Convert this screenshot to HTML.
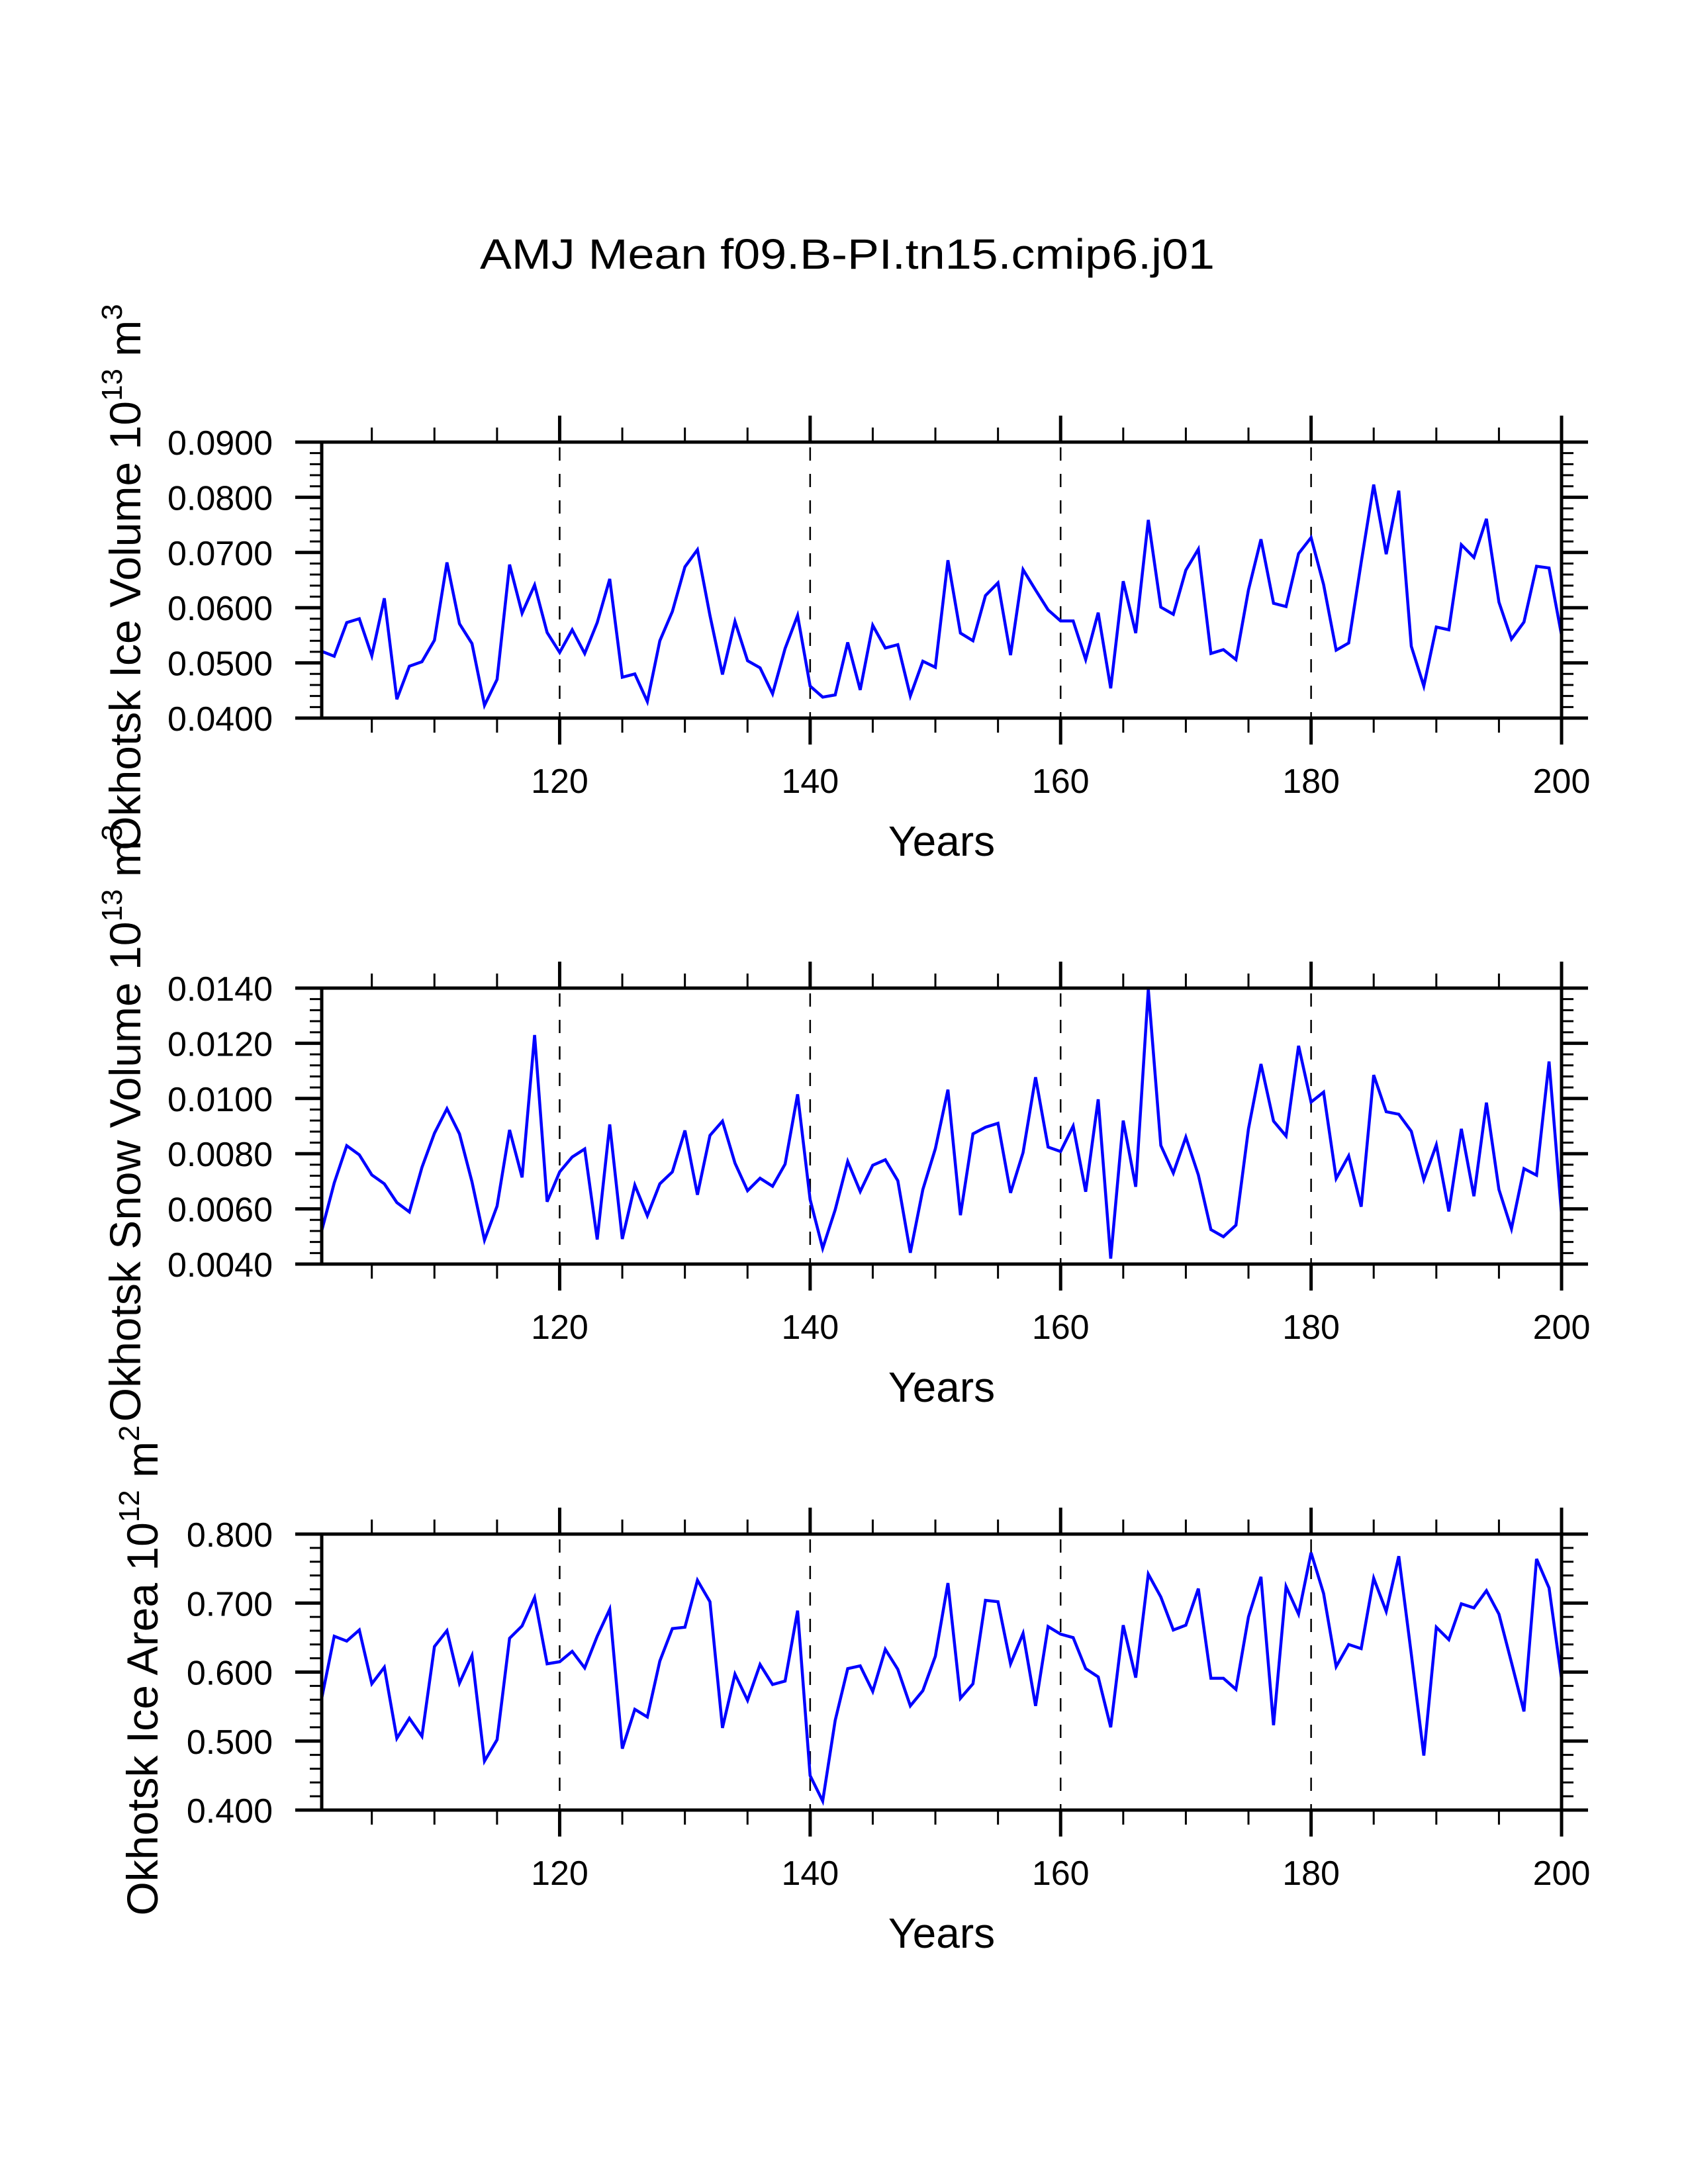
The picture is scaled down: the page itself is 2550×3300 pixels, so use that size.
<!DOCTYPE html>
<html><head><meta charset="utf-8">
<style>
html,body{margin:0;padding:0;background:#fff;}
svg{display:block;}
text{font-family:"Liberation Sans",Arial,sans-serif;fill:#000;}
</style></head>
<body>
<svg id="chart" xmlns="http://www.w3.org/2000/svg" width="2550" height="3300" viewBox="0 0 2550 3300">
<rect x="0" y="0" width="2550" height="3300" fill="#fff"/>
<text x="1280" y="406" font-size="64" text-anchor="middle" textLength="1110" lengthAdjust="spacingAndGlyphs">AMJ Mean f09.B-PI.tn15.cmip6.j01</text>
<g id="panels"></g>
</svg>
<script>
const years = [];
for (let y = 101; y <= 200; y++) years.push(y);

const iceVolume = [0.0521,0.0512,0.0573,0.0580,0.0513,0.0617,0.0434,0.0494,0.0502,0.0541,
0.0682,0.0571,0.0535,0.0423,0.0470,0.0678,0.0590,0.0641,0.0555,0.0519,
0.0560,0.0517,0.0573,0.0652,0.0474,0.0480,0.0430,0.0540,0.0593,0.0674,
0.0705,0.0586,0.0479,0.0575,0.0504,0.0491,0.0444,0.0526,0.0586,0.0458,
0.0438,0.0442,0.0537,0.0451,0.0568,0.0527,0.0533,0.0440,0.0503,0.0492,
0.0686,0.0554,0.0540,0.0622,0.0645,0.0514,0.0669,0.0632,0.0596,0.0576,
0.0576,0.0506,0.0591,0.0454,0.0648,0.0554,0.0759,0.0601,0.0588,0.0668,
0.0706,0.0517,0.0524,0.0506,0.0632,0.0724,0.0608,0.0602,0.0698,0.0727,
0.0642,0.0523,0.0536,0.0682,0.0823,0.0697,0.0812,0.0530,0.0458,0.0565,
0.0560,0.0714,0.0691,0.0761,0.0610,0.0543,0.0574,0.0675,0.0672,0.0550];

const snowVolume = [0.00521,0.00694,0.00829,0.00796,0.00723,0.00691,0.00623,0.00589,0.00750,0.00874,
0.00963,0.00872,0.00698,0.00487,0.00610,0.00886,0.00714,0.01230,0.00626,0.00734,
0.00788,0.00817,0.00489,0.00906,0.00491,0.00686,0.00575,0.00691,0.00734,0.00884,
0.00651,0.00866,0.00918,0.00766,0.00666,0.00711,0.00682,0.00762,0.01015,0.00634,
0.00457,0.00597,0.00772,0.00663,0.00758,0.00778,0.00702,0.00441,0.00670,0.00818,
0.01032,0.00577,0.00872,0.00896,0.00910,0.00658,0.00804,0.01077,0.00824,0.00808,
0.00900,0.00662,0.00997,0.00420,0.00920,0.00680,0.01396,0.00830,0.00730,0.00860,
0.00723,0.00525,0.00499,0.00541,0.00890,0.01125,0.00918,0.00864,0.01191,0.00987,
0.01023,0.00710,0.00792,0.00608,0.01085,0.00952,0.00943,0.00881,0.00706,0.00832,
0.00591,0.00890,0.00646,0.00985,0.00670,0.00528,0.00746,0.00722,0.01134,0.00580];

const iceArea = [0.562,0.652,0.645,0.661,0.583,0.607,0.504,0.533,0.507,0.637,
0.660,0.584,0.624,0.471,0.502,0.649,0.667,0.708,0.612,0.615,
0.630,0.606,0.652,0.691,0.489,0.546,0.535,0.616,0.663,0.665,
0.733,0.702,0.519,0.597,0.559,0.611,0.582,0.587,0.689,0.450,
0.413,0.530,0.605,0.609,0.572,0.633,0.604,0.551,0.573,0.623,
0.729,0.562,0.583,0.704,0.702,0.612,0.656,0.551,0.666,0.655,
0.650,0.605,0.593,0.520,0.668,0.592,0.742,0.709,0.661,0.668,
0.721,0.591,0.591,0.575,0.680,0.738,0.523,0.724,0.684,0.773,
0.714,0.608,0.640,0.634,0.736,0.688,0.768,0.626,0.479,0.665,
0.647,0.699,0.693,0.718,0.684,0.614,0.543,0.764,0.722,0.590];

const xMajorTicks = [120,140,160,180,200];
const ticksVolume = ["0.0400","0.0500","0.0600","0.0700","0.0800","0.0900"];
const ticksSnow = ["0.0040","0.0060","0.0080","0.0100","0.0120","0.0140"];
const ticksArea = ["0.400","0.500","0.600","0.700","0.800"];

const NS = "http://www.w3.org/2000/svg";
const root = document.getElementById("panels");
const L = 486, R = 2359, H = 417;
const xMin = 101, xMax = 200;
function xs(v){ return L + (v - xMin) / (xMax - xMin) * (R - L); }

function mk(tag, attrs, parent){
  const e = document.createElementNS(NS, tag);
  for (const k in attrs) e.setAttribute(k, attrs[k]);
  parent.appendChild(e);
  return e;
}

function panel(cfg){
  const g = mk("g", {}, root);
  
  
  const T = cfg.top, B = cfg.top + H;
  const yMin = parseFloat(cfg.ticks[0]), yMax = parseFloat(cfg.ticks[cfg.ticks.length-1]);
  const ys = v => B - (v - yMin) / (yMax - yMin) * H;

  xMajorTicks.slice(0, 4).forEach(t => {
    const l = mk("line", {x1: xs(t), x2: xs(t), y1: T + 8, y2: B, stroke: "#000", "stroke-width": 2.5, "stroke-dasharray": "20,20"}, g);
    
    
  });

  for (let t = 105; t <= 200; t += 5) {
    const major = xMajorTicks.indexOf(t) >= 0;
    const len = major ? 40 : 22;
    const w = major ? 5 : 3;
    mk("line", {x1: xs(t), x2: xs(t), y1: T, y2: T - len, stroke: "#000", "stroke-width": w}, g);
    mk("line", {x1: xs(t), x2: xs(t), y1: B, y2: B + len, stroke: "#000", "stroke-width": w}, g);
  }
  const nMinor = 5;
  for (let i = 0; i < cfg.ticks.length; i++) {
    const v = parseFloat(cfg.ticks[i]);
    const y = ys(v);
    mk("line", {x1: L, x2: L - 40, y1: y, y2: y, stroke: "#000", "stroke-width": 5}, g);
    mk("line", {x1: R, x2: R + 40, y1: y, y2: y, stroke: "#000", "stroke-width": 5}, g);
    const lab = mk("text", {x: 412, y: y + 19, "font-size": 52, "text-anchor": "end"}, g);
    lab.textContent = cfg.ticks[i];
    
    
    if (i < cfg.ticks.length - 1) {
      const step = (parseFloat(cfg.ticks[i+1]) - v) / nMinor;
      for (let m = 1; m < nMinor; m++) {
        const ym = ys(v + m * step);
        mk("line", {x1: L, x2: L - 18, y1: ym, y2: ym, stroke: "#000", "stroke-width": 3}, g);
        mk("line", {x1: R, x2: R + 18, y1: ym, y2: ym, stroke: "#000", "stroke-width": 3}, g);
      }
    }
  }
  xMajorTicks.forEach(t => {
    const lab = mk("text", {x: xs(t), y: B + 113, "font-size": 52, "text-anchor": "middle"}, g);
    lab.textContent = String(t);
    
    
  });
  const pts = years.map((yr, i) => xs(yr).toFixed(1) + "," + ys(cfg.data[i]).toFixed(1)).join(" ");
  const pl = mk("polyline", {points: pts, fill: "none", stroke: "#0000ff", "stroke-width": 4.5, "stroke-linejoin": "miter"}, g);
  
  
  const fr = mk("rect", {x: L, y: T, width: R - L, height: H, fill: "none", stroke: "#000", "stroke-width": 5}, g);
  
  
  const xt = mk("text", {x: (L + R) / 2, y: B + 208, "font-size": 64, "text-anchor": "middle"}, g);
  xt.textContent = "Years";
  
  
  const cy = cfg.titleCy, bx = cfg.titleX;
  const yt = mk("text", {x: 0, y: 0, "font-size": 66, "text-anchor": "middle", transform: "translate(" + bx + "," + cy + ") rotate(-90)"}, g);
  
  
  const t1 = mk("tspan", {}, yt); t1.textContent = cfg.title + " 10";
  const t2 = mk("tspan", {dy: -28, "font-size": 44}, yt); t2.textContent = cfg.exp;
  const t3 = mk("tspan", {dy: 28}, yt); t3.textContent = " m";
  const t4 = mk("tspan", {dy: -28, "font-size": 44}, yt); t4.textContent = cfg.unitExp;
}

panel({name: "ice-volume", top: 668, data: iceVolume, ticks: ticksVolume, title: "Okhotsk Ice Volume", exp: "13", unitExp: "3", titleCy: 872, titleX: 212});
panel({name: "snow-volume", top: 1493, data: snowVolume, ticks: ticksSnow, title: "Okhotsk Snow Volume", exp: "13", unitExp: "3", titleCy: 1697, titleX: 212});
panel({name: "ice-area", top: 2318, data: iceArea, ticks: ticksArea, title: "Okhotsk Ice Area", exp: "12", unitExp: "2", titleCy: 2524, titleX: 238});
</script>
</body></html>
